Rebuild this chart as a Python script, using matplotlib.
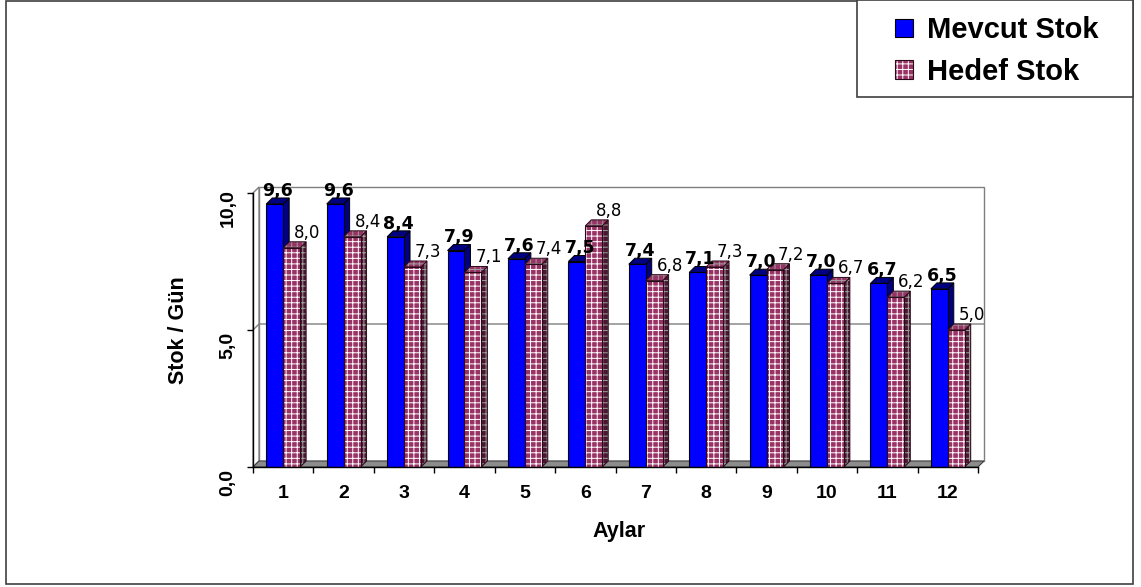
import matplotlib
matplotlib.use('Agg')
import matplotlib.pyplot as plt
from matplotlib.patches import Polygon, Rectangle
from matplotlib.font_manager import FontProperties
from matplotlib.transforms import ScaledTranslation
import numpy as np

# ---- data ----
months = ['1', '2', '3', '4', '5', '6', '7', '8', '9', '10', '11', '12']
mevcut = [9.6, 9.6, 8.4, 7.9, 7.6, 7.5, 7.4, 7.1, 7.0, 7.0, 6.7, 6.5]
hedef = [8.0, 8.4, 7.3, 7.1, 7.4, 8.8, 6.8, 7.3, 7.2, 6.7, 6.2, 5.0]
series_names = ['Mevcut Stok', 'Hedef Stok']
y_ticks = [0, 5, 10]
y_tick_labels = ['0,0', '5,0', '10,0']
x_title = 'Aylar'
y_title = 'Stok / Gün'

plt.rcParams['hatch.linewidth'] = 0.7

W, H = 1141, 587
fig = plt.figure(figsize=(W / 100, H / 100), dpi=100)


def fx(px):
    return px / W


def fy(py):
    return 1 - py / H


ax = fig.add_axes([fx(253), fy(467), (978 - 253) / W, (467 - 193) / H])
ax.set_xlim(0, len(months))
ax.set_ylim(0, 10)
ax.set_facecolor('none')

# depth of the pseudo-3D walls and bars, in data units
dx = 6 / (725 / 12)
dy = 6 / 27.4

BLUE, BLUE_DARK = '#0000ff', '#000080'
MAROON, MAROON_DARK = '#993366', '#4a1530'
GRID = '#7f7f7f'

x0, x1 = 0, len(months)
# back wall, left wall and floor
ax.add_patch(Rectangle((x0 + dx, dy), x1 - x0, 10, facecolor='white',
                       edgecolor=GRID, lw=1, zorder=0.5, clip_on=False))
ax.add_patch(Polygon([(x0, 0), (x0 + dx, dy), (x0 + dx, 10 + dy), (x0, 10)],
                     closed=True, facecolor='white', edgecolor=GRID, lw=1,
                     zorder=0.6, clip_on=False))
ax.add_patch(Polygon([(x0, 0), (x1, 0), (x1 + dx, dy), (x0 + dx, dy)],
                     closed=True, facecolor='#8c8c8c', edgecolor='#404040',
                     lw=0.8, zorder=0.7, clip_on=False))
# gridline at 5 on the walls
ax.plot([x0, x0 + dx, x1 + dx], [5, 5 + dy, 5 + dy], color=GRID, lw=1,
        zorder=0.8, clip_on=False)

x = np.arange(len(months)) + 0.5
w = 0.28


def add_depth(left, vals, face_side, face_top, z, hatch=None, hatch_col=None):
    for xl, v in zip(left, vals):
        side = [(xl + w, 0), (xl + w + dx, dy), (xl + w + dx, v + dy), (xl + w, v)]
        top = [(xl, v), (xl + w, v), (xl + w + dx, v + dy), (xl + dx, v + dy)]
        for pts, fc in ((side, face_side), (top, face_top)):
            if hatch:
                ax.add_patch(Polygon(pts, closed=True, facecolor=fc,
                                     edgecolor=hatch_col, hatch=hatch, lw=0,
                                     zorder=z, clip_on=False))
                ax.add_patch(Polygon(pts, closed=True, fill=False,
                                     edgecolor='#2a0a18', lw=0.7,
                                     zorder=z, clip_on=False))
            else:
                ax.add_patch(Polygon(pts, closed=True, facecolor=fc,
                                     edgecolor='black', lw=0.7,
                                     zorder=z, clip_on=False))


# Mevcut Stok
add_depth(x - w, mevcut, BLUE_DARK, BLUE_DARK, 2)
b1 = ax.bar(x - w, mevcut, width=w, align='edge', color=BLUE,
            edgecolor='black', lw=0.8, zorder=3)
# Hedef Stok
add_depth(x, hedef, MAROON_DARK, MAROON, 4, hatch='+++', hatch_col='#a0a0a0')
b2 = ax.bar(x, hedef, width=w, align='edge', color=MAROON,
            edgecolor='white', hatch='+++', lw=0, zorder=5)
b2o = ax.bar(x, hedef, width=w, align='edge', fill=False,
             edgecolor='#2a0a18', lw=0.8, zorder=5.1)


def fmt(v):
    return f'{v:.1f}'.replace('.', ',')


for xc, v in zip(x, mevcut):
    ax.annotate(fmt(v), xy=(xc - w / 2 + dx / 2, v + dy), xytext=(0, 1.5),
                textcoords='offset points', ha='center', va='baseline',
                fontsize=12.5, fontweight='bold', family='DejaVu Sans',
                zorder=8, annotation_clip=False)
for xc, v in zip(x, hedef):
    ax.annotate(fmt(v), xy=(xc + w / 2 + dx / 2, v + dy), xytext=(9, 3),
                textcoords='offset points', ha='center', va='baseline',
                fontsize=12, family='DejaVu Sans',
                zorder=8, annotation_clip=False)

# axes
for s in ('top', 'right'):
    ax.spines[s].set_visible(False)
for s in ('left', 'bottom'):
    ax.spines[s].set_color('black')
    ax.spines[s].set_linewidth(1)
    ax.spines[s].set_zorder(6)

tick_font = dict(family='Liberation Sans', weight='bold', size=14)
title_font = dict(family='Liberation Sans', weight='bold', size=15.5)
ax.set_yticks(y_ticks)
ax.set_yticklabels(y_tick_labels, rotation=90, va='center', **tick_font)
ax.tick_params(axis='y', direction='out', length=4, width=1, pad=8)
shift = ScaledTranslation(0, -15 / 100, fig.dpi_scale_trans)
for lab in ax.get_yticklabels():
    lab.set_transform(lab.get_transform() + shift)

ax.set_xticks(x)
ax.set_xticklabels(months, **tick_font)
ax.set_xticks(np.arange(len(months) + 1), minor=True)
ax.tick_params(axis='x', which='major', length=0, pad=13)
ax.tick_params(axis='x', which='minor', direction='out', length=4.5, width=1)

ax.set_xlabel(x_title, **title_font)
ax.xaxis.set_label_coords((619 - 253) / 725, (467 - 532) / 274)
ax.xaxis.label.set_va('center')
ax.set_ylabel(y_title, **title_font)
ax.yaxis.set_label_coords((178 - 253) / 725, (467 - 330) / 274)
ax.yaxis.label.set_va('center')

# outer frame
fig.patches.append(Rectangle((fx(6), fy(584)), (1133 - 6) / W, (584 - 0.5) / H,
                             transform=fig.transFigure, fill=False,
                             edgecolor='#404040', lw=1.2))
# legend frame and legend
fig.patches.append(Rectangle((fx(857), fy(97)), (1133 - 857) / W, 97 / H,
                             transform=fig.transFigure, facecolor='white',
                             edgecolor='#404040', lw=1.2, zorder=5))
leg = fig.legend(handles=[b1, (b2[0], b2o[0])], labels=series_names,
                 loc='center', bbox_to_anchor=(fx(997), fy(51)),
                 frameon=False,
                 prop=FontProperties(family='Liberation Sans', weight='bold', size=21),
                 handlelength=0.6, handleheight=0.6, handletextpad=0.5,
                 labelspacing=0.45, borderpad=0)
leg.set_zorder(6)

fig.savefig('out.png', dpi=100)
